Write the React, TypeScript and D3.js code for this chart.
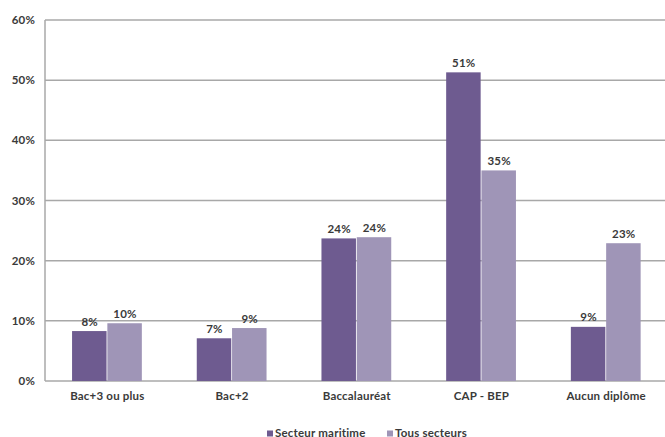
import React from "react";
import * as d3 from "d3";

const categories = ["Bac+3 ou plus", "Bac+2", "Baccalauréat", "CAP - BEP", "Aucun diplôme"];
const maritime = [8.3, 7.1, 23.7, 51.3, 9.0];
const tous = [9.6, 8.8, 23.9, 35.0, 22.9];
const seriesNames = ["Secteur maritime", "Tous secteurs"];
const yTicks = [0, 10, 20, 30, 40, 50, 60];

const W = 665;
const H = 437;
const colors = ["#6e5b90", "#9f95b7"];
const font = "Lato, 'Open Sans', sans-serif";
const textColor = "#3a3a3a";

export default function App() {
  const x = d3.scaleBand<string>().domain(categories).range([45, 668.5]).padding(0);
  const y = d3.scaleLinear().domain([0, 60]).range([381, 20]);
  const bw = x.bandwidth() * 0.283;
  const series = [maritime, tous];

  return (
    <svg width={W} height={H} style={{ position: "absolute", left: 0, top: 0 }}>
      <rect width={W} height={H} fill="#fff" />
      {yTicks.map((t) => (
        <g key={t}>
          <line x1={45} x2={W} y1={y(t)} y2={y(t)} stroke="#a8a8a8" strokeWidth={1.5} />
          <text x={35} y={y(t)} dy="0.35em" textAnchor="end" fontFamily={font} fontWeight={700} fontSize={11.5} fill={textColor} letterSpacing={0.2}>
            {t}%
          </text>
        </g>
      ))}
      <line x1={45} x2={45} y1={y(60)} y2={y(0)} stroke="#a8a8a8" strokeWidth={1.5} />
      {categories.map((c, i) => {
        const cx = (x(c) as number) + x.bandwidth() / 2;
        return (
          <g key={c}>
            {series.map((s, j) => {
              const bx = cx - bw + j * bw;
              return (
                <g key={j}>
                  <rect x={bx} y={y(s[i])} width={bw - 0.8} height={y(0) - y(s[i])} fill={colors[j]} />
                  <text x={bx + bw / 2} y={y(s[i]) - 5.5} textAnchor="middle" fontFamily={font} fontWeight={700} fontSize={11.5} fill={textColor} letterSpacing={0.2}>
                    {Math.round(s[i])}%
                  </text>
                </g>
              );
            })}
            <text x={cx} y={400} textAnchor="middle" fontFamily={font} fontWeight={700} fontSize={11.5} fill={textColor} letterSpacing={0.2}>
              {c}
            </text>
          </g>
        );
      })}
      {seriesNames.map((n, j) => {
        const lx = [267, 387][j];
        return (
          <g key={n}>
            <rect x={lx} y={430.5} width={6} height={6} fill={colors[j]} />
            <text x={lx + 8} y={436.5} fontFamily={font} fontWeight={700} fontSize={11.5} fill={textColor} letterSpacing={0.2}>
              {n}
            </text>
          </g>
        );
      })}
    </svg>
  );
}
